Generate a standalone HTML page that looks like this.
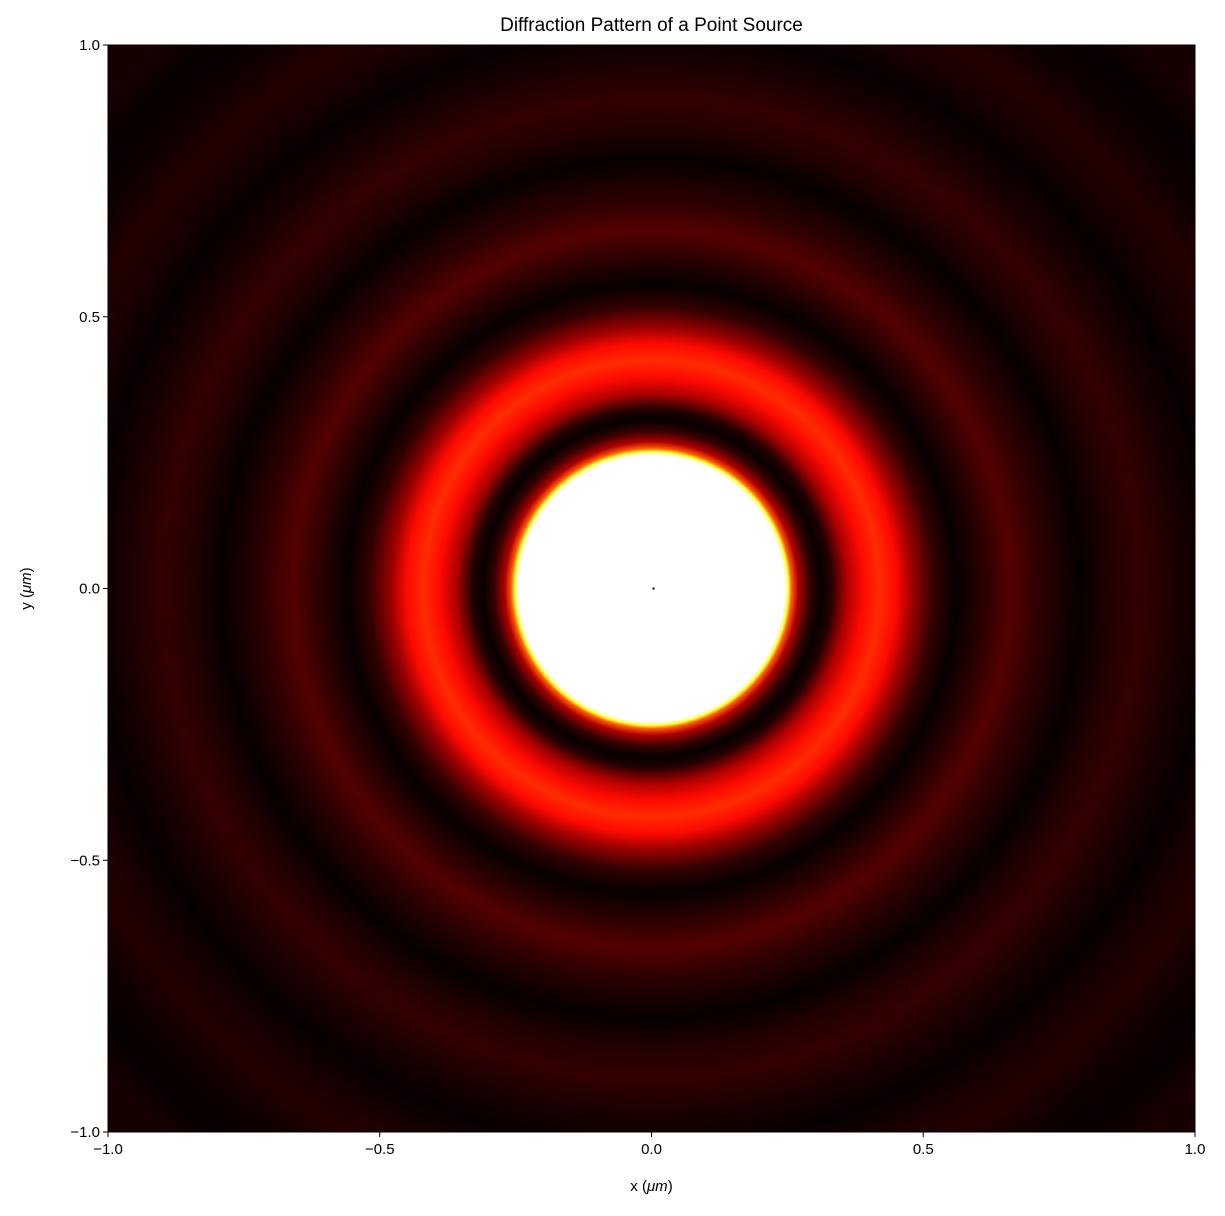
<!DOCTYPE html>
<html><head><meta charset="utf-8"><style>
body{margin:0;background:#fff}
svg text{font-family:"Liberation Sans","DejaVu Sans",sans-serif;font-size:15px;fill:#000}
</style></head><body>
<svg id="chart" width="1225" height="1211" xmlns="http://www.w3.org/2000/svg">
<defs><radialGradient id="airy" gradientUnits="userSpaceOnUse"></radialGradient></defs>
<g id="plot"></g>
<g id="axes"></g>
</svg>
<script>
const radii=[0,0.245,0.252,0.258,0.27,0.29,0.31,0.33,0.36,0.39,0.42,0.45,0.48,0.52,0.56,0.60,0.66,0.72,0.79,0.85,0.9,0.96,1.03,1.1,1.15,1.22,1.28,1.35,1.45];
const intensity=[1,1,0.8,0.5,0.25,0.08,0.01,0.05,0.25,0.38,0.43,0.38,0.22,0.07,0.01,0.05,0.12,0.06,0.01,0.05,0.075,0.04,0.01,0.04,0.05,0.02,0.01,0.035,0.03];
const xTicks=[-1,-0.5,0,0.5,1];
const yTicks=[-1,-0.5,0,0.5,1];
const xTickLabels=["\u22121.0","\u22120.5","0.0","0.5","1.0"];
const yTickLabels=["\u22121.0","\u22120.5","0.0","0.5","1.0"];
const L=108,R=1195,T=45,B=1132;
const xs=v=>L+(v+1)/2*(R-L), ys=v=>B-(v+1)/2*(B-T);
const NS="http://www.w3.org/2000/svg";
function hot(v){const c=x=>Math.max(0,Math.min(1,x));
 const r=c(v/0.365),g=c((v-0.365)/0.375),b=c((v-0.746)/0.254);
 return `rgb(${Math.round(r*255)},${Math.round(g*255)},${Math.round(b*255)})`;}
const maxR=radii[radii.length-1];
const grad=document.getElementById('airy');
grad.setAttribute('cx',xs(0));grad.setAttribute('cy',ys(0));grad.setAttribute('r',xs(maxR)-xs(0));
radii.forEach((r,i)=>{const s=document.createElementNS(NS,'stop');
 s.setAttribute('offset',r/maxR);s.setAttribute('stop-color',hot(intensity[i]));grad.appendChild(s);});
const plot=document.getElementById('plot');
const img=document.createElementNS(NS,'rect');


img.setAttribute('x',L);img.setAttribute('y',T);img.setAttribute('width',R-L);img.setAttribute('height',B-T);
img.setAttribute('fill','url(#airy)');plot.appendChild(img);
const dot=document.createElementNS(NS,'rect');


dot.setAttribute('x',xs(0)+1);dot.setAttribute('y',ys(0)-1);dot.setAttribute('width',2);dot.setAttribute('height',2);dot.setAttribute('fill','#000');plot.appendChild(dot);
const ax=document.getElementById('axes');
function el(tag,attrs,txt){const e=document.createElementNS(NS,tag);for(const k in attrs)e.setAttribute(k,attrs[k]);if(txt!==undefined)e.textContent=txt;ax.appendChild(e);return e;}
const frame=el('rect',{x:L,y:T,width:R-L,height:B-T,fill:'none',stroke:'#000','stroke-width':1});


xTicks.forEach((v,i)=>{const x=xs(v);
 const t=el('line',{x1:x,x2:x,y1:B,y2:B+5,stroke:'#000'});
 
 
 const l=el('text',{x:x,y:B+22,'text-anchor':'middle'},xTickLabels[i]);
 
 });
yTicks.forEach((v,i)=>{const y=ys(v);
 const t=el('line',{x1:L-5,x2:L,y1:y,y2:y,stroke:'#000'});
 
 
 const l=el('text',{x:L-8,y:y+5,'text-anchor':'end'},yTickLabels[i]);
 
 });
const title=el('text',{x:(L+R)/2,y:31,'text-anchor':'middle'},'Diffraction Pattern of a Point Source');


title.style.fontSize='19px';
const xt=el('text',{x:(L+R)/2,y:1191,'text-anchor':'middle'});
xt.innerHTML='x (<tspan font-style="italic">μm</tspan>)';


const yt=el('text',{x:31,y:(T+B)/2,'text-anchor':'middle',transform:`rotate(-90 31 ${(T+B)/2})`});
yt.innerHTML='y (<tspan font-style="italic">μm</tspan>)';


</script>
</body></html>
